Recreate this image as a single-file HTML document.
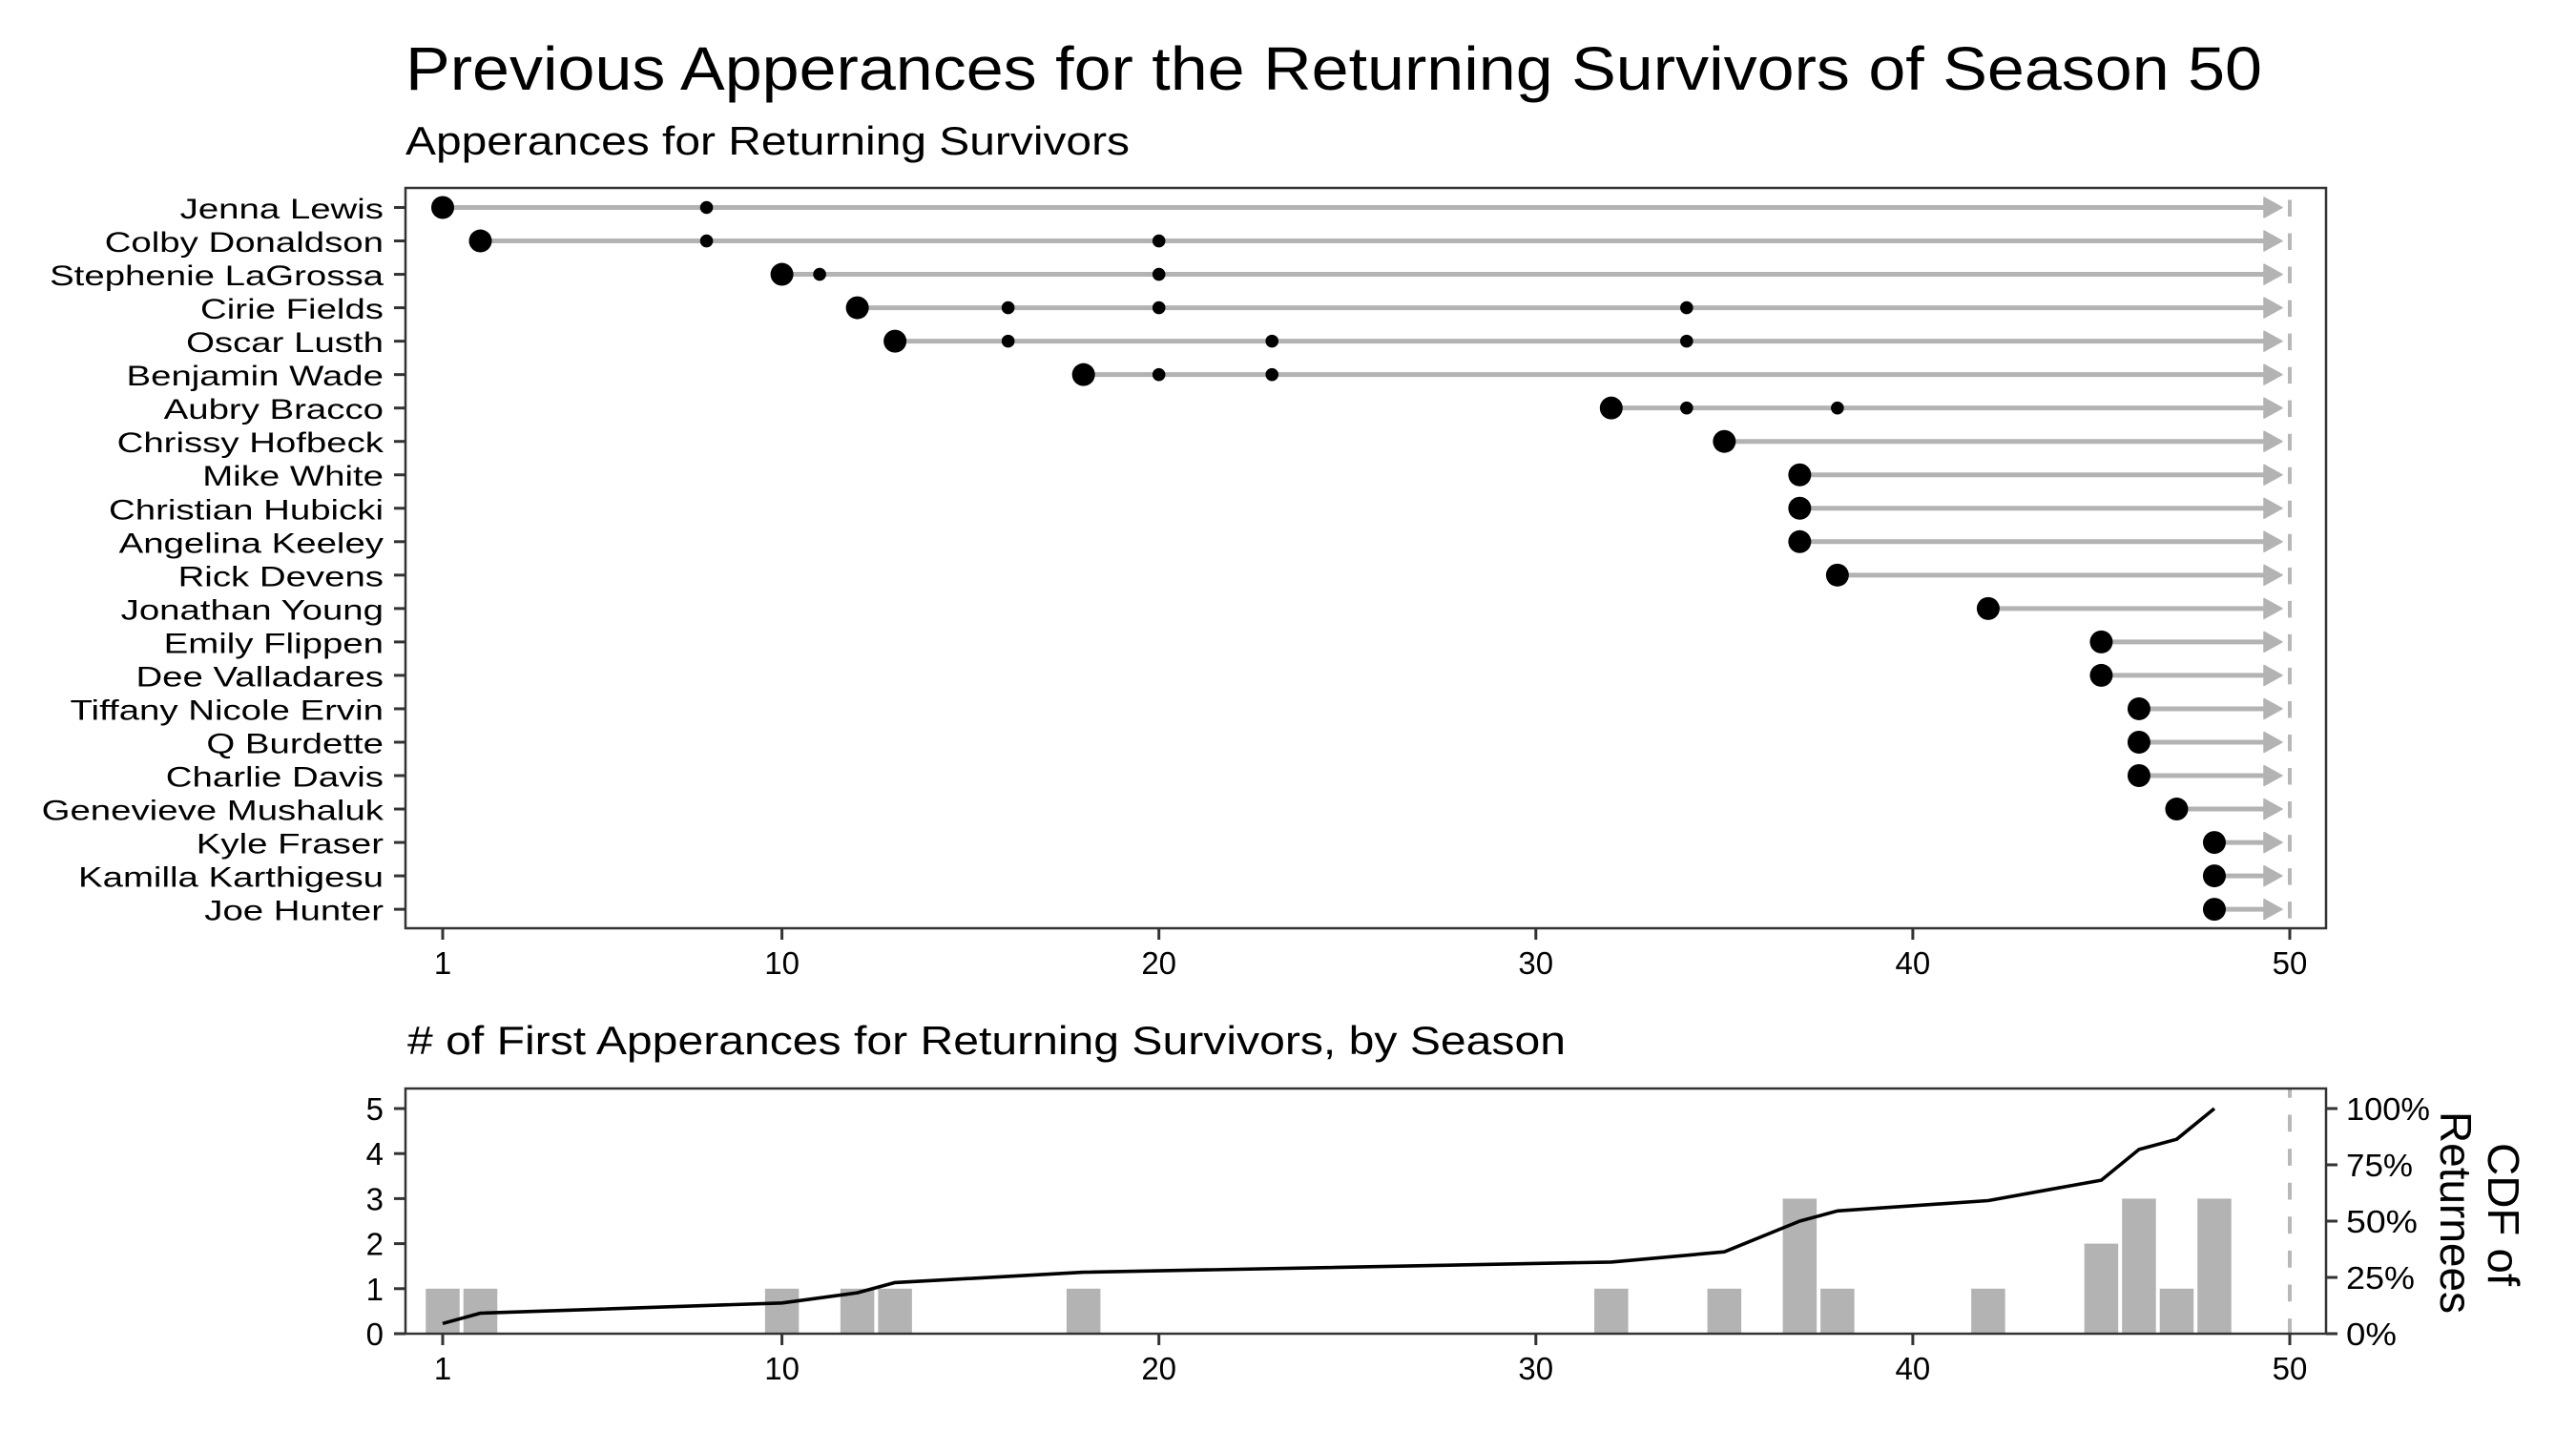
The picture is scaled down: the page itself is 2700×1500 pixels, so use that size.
<!DOCTYPE html>
<html>
<head>
<meta charset="utf-8">
<style>
html,body{margin:0;padding:0;background:#fff;}
svg{display:block;}
text{font-family:"Liberation Sans","DejaVu Sans",sans-serif;fill:#000;}
</style>
</head>
<body>
<svg width="2700" height="1500" viewBox="0 0 2700 1500" xmlns="http://www.w3.org/2000/svg">
<rect x="0" y="0" width="2700" height="1500" fill="#fff"/>

<!-- Titles -->
<text x="425" y="94" font-size="64" textLength="1946" lengthAdjust="spacingAndGlyphs">Previous Apperances for the Returning Survivors of Season 50</text>
<text x="425" y="162" font-size="42" textLength="759" lengthAdjust="spacingAndGlyphs">Apperances for Returning Survivors</text>

<!-- ===== TOP PANEL ===== -->
<line x1="2400" y1="197" x2="2400" y2="973" stroke="#b8b8b8" stroke-width="4" stroke-dasharray="17.5 17.53" stroke-dashoffset="22.53"/>

<g stroke="#b3b3b3" stroke-width="5" fill="none">
<line x1="464" y1="217.5" x2="2374" y2="217.5"/>
<line x1="503.51" y1="252.53" x2="2374" y2="252.53"/>
<line x1="819.59" y1="287.56" x2="2374" y2="287.56"/>
<line x1="898.61" y1="322.59" x2="2374" y2="322.59"/>
<line x1="938.12" y1="357.62" x2="2374" y2="357.62"/>
<line x1="1135.67" y1="392.65" x2="2374" y2="392.65"/>
<line x1="1688.81" y1="427.68" x2="2374" y2="427.68"/>
<line x1="1807.34" y1="462.71" x2="2374" y2="462.71"/>
<line x1="1886.36" y1="497.74" x2="2374" y2="497.74"/>
<line x1="1886.36" y1="532.77" x2="2374" y2="532.77"/>
<line x1="1886.36" y1="567.8" x2="2374" y2="567.8"/>
<line x1="1925.87" y1="602.83" x2="2374" y2="602.83"/>
<line x1="2083.91" y1="637.86" x2="2374" y2="637.86"/>
<line x1="2202.44" y1="672.89" x2="2374" y2="672.89"/>
<line x1="2202.44" y1="707.92" x2="2374" y2="707.92"/>
<line x1="2241.95" y1="742.95" x2="2374" y2="742.95"/>
<line x1="2241.95" y1="777.98" x2="2374" y2="777.98"/>
<line x1="2241.95" y1="813.01" x2="2374" y2="813.01"/>
<line x1="2281.46" y1="848.04" x2="2374" y2="848.04"/>
<line x1="2320.97" y1="883.07" x2="2374" y2="883.07"/>
<line x1="2320.97" y1="918.1" x2="2374" y2="918.1"/>
<line x1="2320.97" y1="953.13" x2="2374" y2="953.13"/>
</g>

<g fill="#b3b3b3" stroke="#b3b3b3" stroke-width="1.5" stroke-linejoin="round">
<polygon points="2373,207 2392,217.5 2373,228"/>
<polygon points="2373,242.03 2392,252.53 2373,263.03"/>
<polygon points="2373,277.06 2392,287.56 2373,298.06"/>
<polygon points="2373,312.09 2392,322.59 2373,333.09"/>
<polygon points="2373,347.12 2392,357.62 2373,368.12"/>
<polygon points="2373,382.15 2392,392.65 2373,403.15"/>
<polygon points="2373,417.18 2392,427.68 2373,438.18"/>
<polygon points="2373,452.21 2392,462.71 2373,473.21"/>
<polygon points="2373,487.24 2392,497.74 2373,508.24"/>
<polygon points="2373,522.27 2392,532.77 2373,543.27"/>
<polygon points="2373,557.3 2392,567.8 2373,578.3"/>
<polygon points="2373,592.33 2392,602.83 2373,613.33"/>
<polygon points="2373,627.36 2392,637.86 2373,648.36"/>
<polygon points="2373,662.39 2392,672.89 2373,683.39"/>
<polygon points="2373,697.42 2392,707.92 2373,718.42"/>
<polygon points="2373,732.45 2392,742.95 2373,753.45"/>
<polygon points="2373,767.48 2392,777.98 2373,788.48"/>
<polygon points="2373,802.51 2392,813.01 2373,823.51"/>
<polygon points="2373,837.54 2392,848.04 2373,858.54"/>
<polygon points="2373,872.57 2392,883.07 2373,893.57"/>
<polygon points="2373,907.6 2392,918.1 2373,928.6"/>
<polygon points="2373,942.63 2392,953.13 2373,963.63"/>
</g>

<g fill="#000">
<circle cx="740.57" cy="217.5" r="6.8"/>
<circle cx="740.57" cy="252.53" r="6.8"/>
<circle cx="1214.69" cy="252.53" r="6.8"/>
<circle cx="859.1" cy="287.56" r="6.8"/>
<circle cx="1214.69" cy="287.56" r="6.8"/>
<circle cx="1056.65" cy="322.59" r="6.8"/>
<circle cx="1214.69" cy="322.59" r="6.8"/>
<circle cx="1767.83" cy="322.59" r="6.8"/>
<circle cx="1056.65" cy="357.62" r="6.8"/>
<circle cx="1333.22" cy="357.62" r="6.8"/>
<circle cx="1767.83" cy="357.62" r="6.8"/>
<circle cx="1214.69" cy="392.65" r="6.8"/>
<circle cx="1333.22" cy="392.65" r="6.8"/>
<circle cx="1767.83" cy="427.68" r="6.8"/>
<circle cx="1925.87" cy="427.68" r="6.8"/>
</g>

<g fill="#000">
<circle cx="464" cy="217.5" r="12"/>
<circle cx="503.51" cy="252.53" r="12"/>
<circle cx="819.59" cy="287.56" r="12"/>
<circle cx="898.61" cy="322.59" r="12"/>
<circle cx="938.12" cy="357.62" r="12"/>
<circle cx="1135.67" cy="392.65" r="12"/>
<circle cx="1688.81" cy="427.68" r="12"/>
<circle cx="1807.34" cy="462.71" r="12"/>
<circle cx="1886.36" cy="497.74" r="12"/>
<circle cx="1886.36" cy="532.77" r="12"/>
<circle cx="1886.36" cy="567.8" r="12"/>
<circle cx="1925.87" cy="602.83" r="12"/>
<circle cx="2083.91" cy="637.86" r="12"/>
<circle cx="2202.44" cy="672.89" r="12"/>
<circle cx="2202.44" cy="707.92" r="12"/>
<circle cx="2241.95" cy="742.95" r="12"/>
<circle cx="2241.95" cy="777.98" r="12"/>
<circle cx="2241.95" cy="813.01" r="12"/>
<circle cx="2281.46" cy="848.04" r="12"/>
<circle cx="2320.97" cy="883.07" r="12"/>
<circle cx="2320.97" cy="918.1" r="12"/>
<circle cx="2320.97" cy="953.13" r="12"/>
</g>

<rect x="425" y="197" width="2013" height="776" fill="none" stroke="#333" stroke-width="2.5"/>

<g stroke="#333" stroke-width="3">
<line x1="413" y1="217.5" x2="425" y2="217.5"/>
<line x1="413" y1="252.53" x2="425" y2="252.53"/>
<line x1="413" y1="287.56" x2="425" y2="287.56"/>
<line x1="413" y1="322.59" x2="425" y2="322.59"/>
<line x1="413" y1="357.62" x2="425" y2="357.62"/>
<line x1="413" y1="392.65" x2="425" y2="392.65"/>
<line x1="413" y1="427.68" x2="425" y2="427.68"/>
<line x1="413" y1="462.71" x2="425" y2="462.71"/>
<line x1="413" y1="497.74" x2="425" y2="497.74"/>
<line x1="413" y1="532.77" x2="425" y2="532.77"/>
<line x1="413" y1="567.8" x2="425" y2="567.8"/>
<line x1="413" y1="602.83" x2="425" y2="602.83"/>
<line x1="413" y1="637.86" x2="425" y2="637.86"/>
<line x1="413" y1="672.89" x2="425" y2="672.89"/>
<line x1="413" y1="707.92" x2="425" y2="707.92"/>
<line x1="413" y1="742.95" x2="425" y2="742.95"/>
<line x1="413" y1="777.98" x2="425" y2="777.98"/>
<line x1="413" y1="813.01" x2="425" y2="813.01"/>
<line x1="413" y1="848.04" x2="425" y2="848.04"/>
<line x1="413" y1="883.07" x2="425" y2="883.07"/>
<line x1="413" y1="918.1" x2="425" y2="918.1"/>
<line x1="413" y1="953.13" x2="425" y2="953.13"/>
<line x1="464" y1="973" x2="464" y2="985"/>
<line x1="819.59" y1="973" x2="819.59" y2="985"/>
<line x1="1214.69" y1="973" x2="1214.69" y2="985"/>
<line x1="1609.79" y1="973" x2="1609.79" y2="985"/>
<line x1="2004.89" y1="973" x2="2004.89" y2="985"/>
<line x1="2400" y1="973" x2="2400" y2="985"/>
</g>

<g transform="translate(402 0) scale(1.28 1)" font-size="30" text-anchor="end">
<text x="0" y="229">Jenna Lewis</text>
<text x="0" y="264.03">Colby Donaldson</text>
<text x="0" y="299.06">Stephenie LaGrossa</text>
<text x="0" y="334.09">Cirie Fields</text>
<text x="0" y="369.12">Oscar Lusth</text>
<text x="0" y="404.15">Benjamin Wade</text>
<text x="0" y="439.18">Aubry Bracco</text>
<text x="0" y="474.21">Chrissy Hofbeck</text>
<text x="0" y="509.24">Mike White</text>
<text x="0" y="544.27">Christian Hubicki</text>
<text x="0" y="579.3">Angelina Keeley</text>
<text x="0" y="614.33">Rick Devens</text>
<text x="0" y="649.36">Jonathan Young</text>
<text x="0" y="684.39">Emily Flippen</text>
<text x="0" y="719.42">Dee Valladares</text>
<text x="0" y="754.45">Tiffany Nicole Ervin</text>
<text x="0" y="789.48">Q Burdette</text>
<text x="0" y="824.51">Charlie Davis</text>
<text x="0" y="859.54">Genevieve Mushaluk</text>
<text x="0" y="894.57">Kyle Fraser</text>
<text x="0" y="929.6">Kamilla Karthigesu</text>
<text x="0" y="964.63">Joe Hunter</text>
</g>

<g font-size="33" text-anchor="middle">
<text x="464" y="1021">1</text>
<text x="819.59" y="1021">10</text>
<text x="1214.69" y="1021">20</text>
<text x="1609.79" y="1021">30</text>
<text x="2004.89" y="1021">40</text>
<text x="2400" y="1021">50</text>
</g>

<!-- ===== BOTTOM PANEL ===== -->
<text x="427" y="1105" font-size="42" textLength="1214" lengthAdjust="spacingAndGlyphs"># of First Apperances for Returning Survivors, by Season</text>

<g fill="#b3b3b3">
<rect x="446.25" y="1350.8" width="35.5" height="47.2"/>
<rect x="485.76" y="1350.8" width="35.5" height="47.2"/>
<rect x="801.84" y="1350.8" width="35.5" height="47.2"/>
<rect x="880.86" y="1350.8" width="35.5" height="47.2"/>
<rect x="920.37" y="1350.8" width="35.5" height="47.2"/>
<rect x="1117.92" y="1350.8" width="35.5" height="47.2"/>
<rect x="1671.06" y="1350.8" width="35.5" height="47.2"/>
<rect x="1789.59" y="1350.8" width="35.5" height="47.2"/>
<rect x="1868.61" y="1256.4" width="35.5" height="141.6"/>
<rect x="1908.12" y="1350.8" width="35.5" height="47.2"/>
<rect x="2066.16" y="1350.8" width="35.5" height="47.2"/>
<rect x="2184.69" y="1303.6" width="35.5" height="94.4"/>
<rect x="2224.2" y="1256.4" width="35.5" height="141.6"/>
<rect x="2263.71" y="1350.8" width="35.5" height="47.2"/>
<rect x="2303.22" y="1256.4" width="35.5" height="141.6"/>
</g>

<line x1="2400" y1="1141" x2="2400" y2="1398" stroke="#b8b8b8" stroke-width="4" stroke-dasharray="17.8 17.8" stroke-dashoffset="8.1"/>

<polyline fill="none" stroke="#000" stroke-width="3.6" stroke-linejoin="round" stroke-linecap="butt"
points="464,1387.3 503.51,1376.5 819.59,1365.8 898.61,1355.1 938.12,1344.4 1135.67,1333.6 1688.81,1322.9 1807.34,1312.2 1886.36,1280 1925.87,1269.3 2083.91,1258.5 2202.44,1237.1 2241.95,1204.9 2281.46,1194.2 2320.97,1162"/>

<rect x="425" y="1141" width="2013" height="257" fill="none" stroke="#333" stroke-width="2.5"/>

<g stroke="#333" stroke-width="3">
<line x1="413" y1="1398" x2="425" y2="1398"/>
<line x1="413" y1="1350.8" x2="425" y2="1350.8"/>
<line x1="413" y1="1303.6" x2="425" y2="1303.6"/>
<line x1="413" y1="1256.4" x2="425" y2="1256.4"/>
<line x1="413" y1="1209.2" x2="425" y2="1209.2"/>
<line x1="413" y1="1162" x2="425" y2="1162"/>
<line x1="2438" y1="1398" x2="2450" y2="1398"/>
<line x1="2438" y1="1339" x2="2450" y2="1339"/>
<line x1="2438" y1="1280" x2="2450" y2="1280"/>
<line x1="2438" y1="1221" x2="2450" y2="1221"/>
<line x1="2438" y1="1162" x2="2450" y2="1162"/>
<line x1="464" y1="1398" x2="464" y2="1410"/>
<line x1="819.59" y1="1398" x2="819.59" y2="1410"/>
<line x1="1214.69" y1="1398" x2="1214.69" y2="1410"/>
<line x1="1609.79" y1="1398" x2="1609.79" y2="1410"/>
<line x1="2004.89" y1="1398" x2="2004.89" y2="1410"/>
<line x1="2400" y1="1398" x2="2400" y2="1410"/>
</g>

<g font-size="33" text-anchor="end">
<text x="402" y="1410">0</text>
<text x="402" y="1362.8">1</text>
<text x="402" y="1315.6">2</text>
<text x="402" y="1268.4">3</text>
<text x="402" y="1221.2">4</text>
<text x="402" y="1174">5</text>
</g>

<g font-size="33">
<text x="2459" y="1410" textLength="53" lengthAdjust="spacingAndGlyphs">0%</text>
<text x="2459" y="1351" textLength="72" lengthAdjust="spacingAndGlyphs">25%</text>
<text x="2459" y="1292" textLength="75" lengthAdjust="spacingAndGlyphs">50%</text>
<text x="2459" y="1233" textLength="70" lengthAdjust="spacingAndGlyphs">75%</text>
<text x="2459" y="1174" textLength="88" lengthAdjust="spacingAndGlyphs">100%</text>
</g>

<g font-size="33" text-anchor="middle">
<text x="464" y="1446">1</text>
<text x="819.59" y="1446">10</text>
<text x="1214.69" y="1446">20</text>
<text x="1609.79" y="1446">30</text>
<text x="2004.89" y="1446">40</text>
<text x="2400" y="1446">50</text>
</g>

<text transform="translate(2608 1273) rotate(90)" font-size="46" text-anchor="middle" textLength="150" lengthAdjust="spacingAndGlyphs">CDF of</text>
<text transform="translate(2558 1271) rotate(90)" font-size="46" text-anchor="middle" textLength="212" lengthAdjust="spacingAndGlyphs">Returnees</text>

</svg>
</body>
</html>
